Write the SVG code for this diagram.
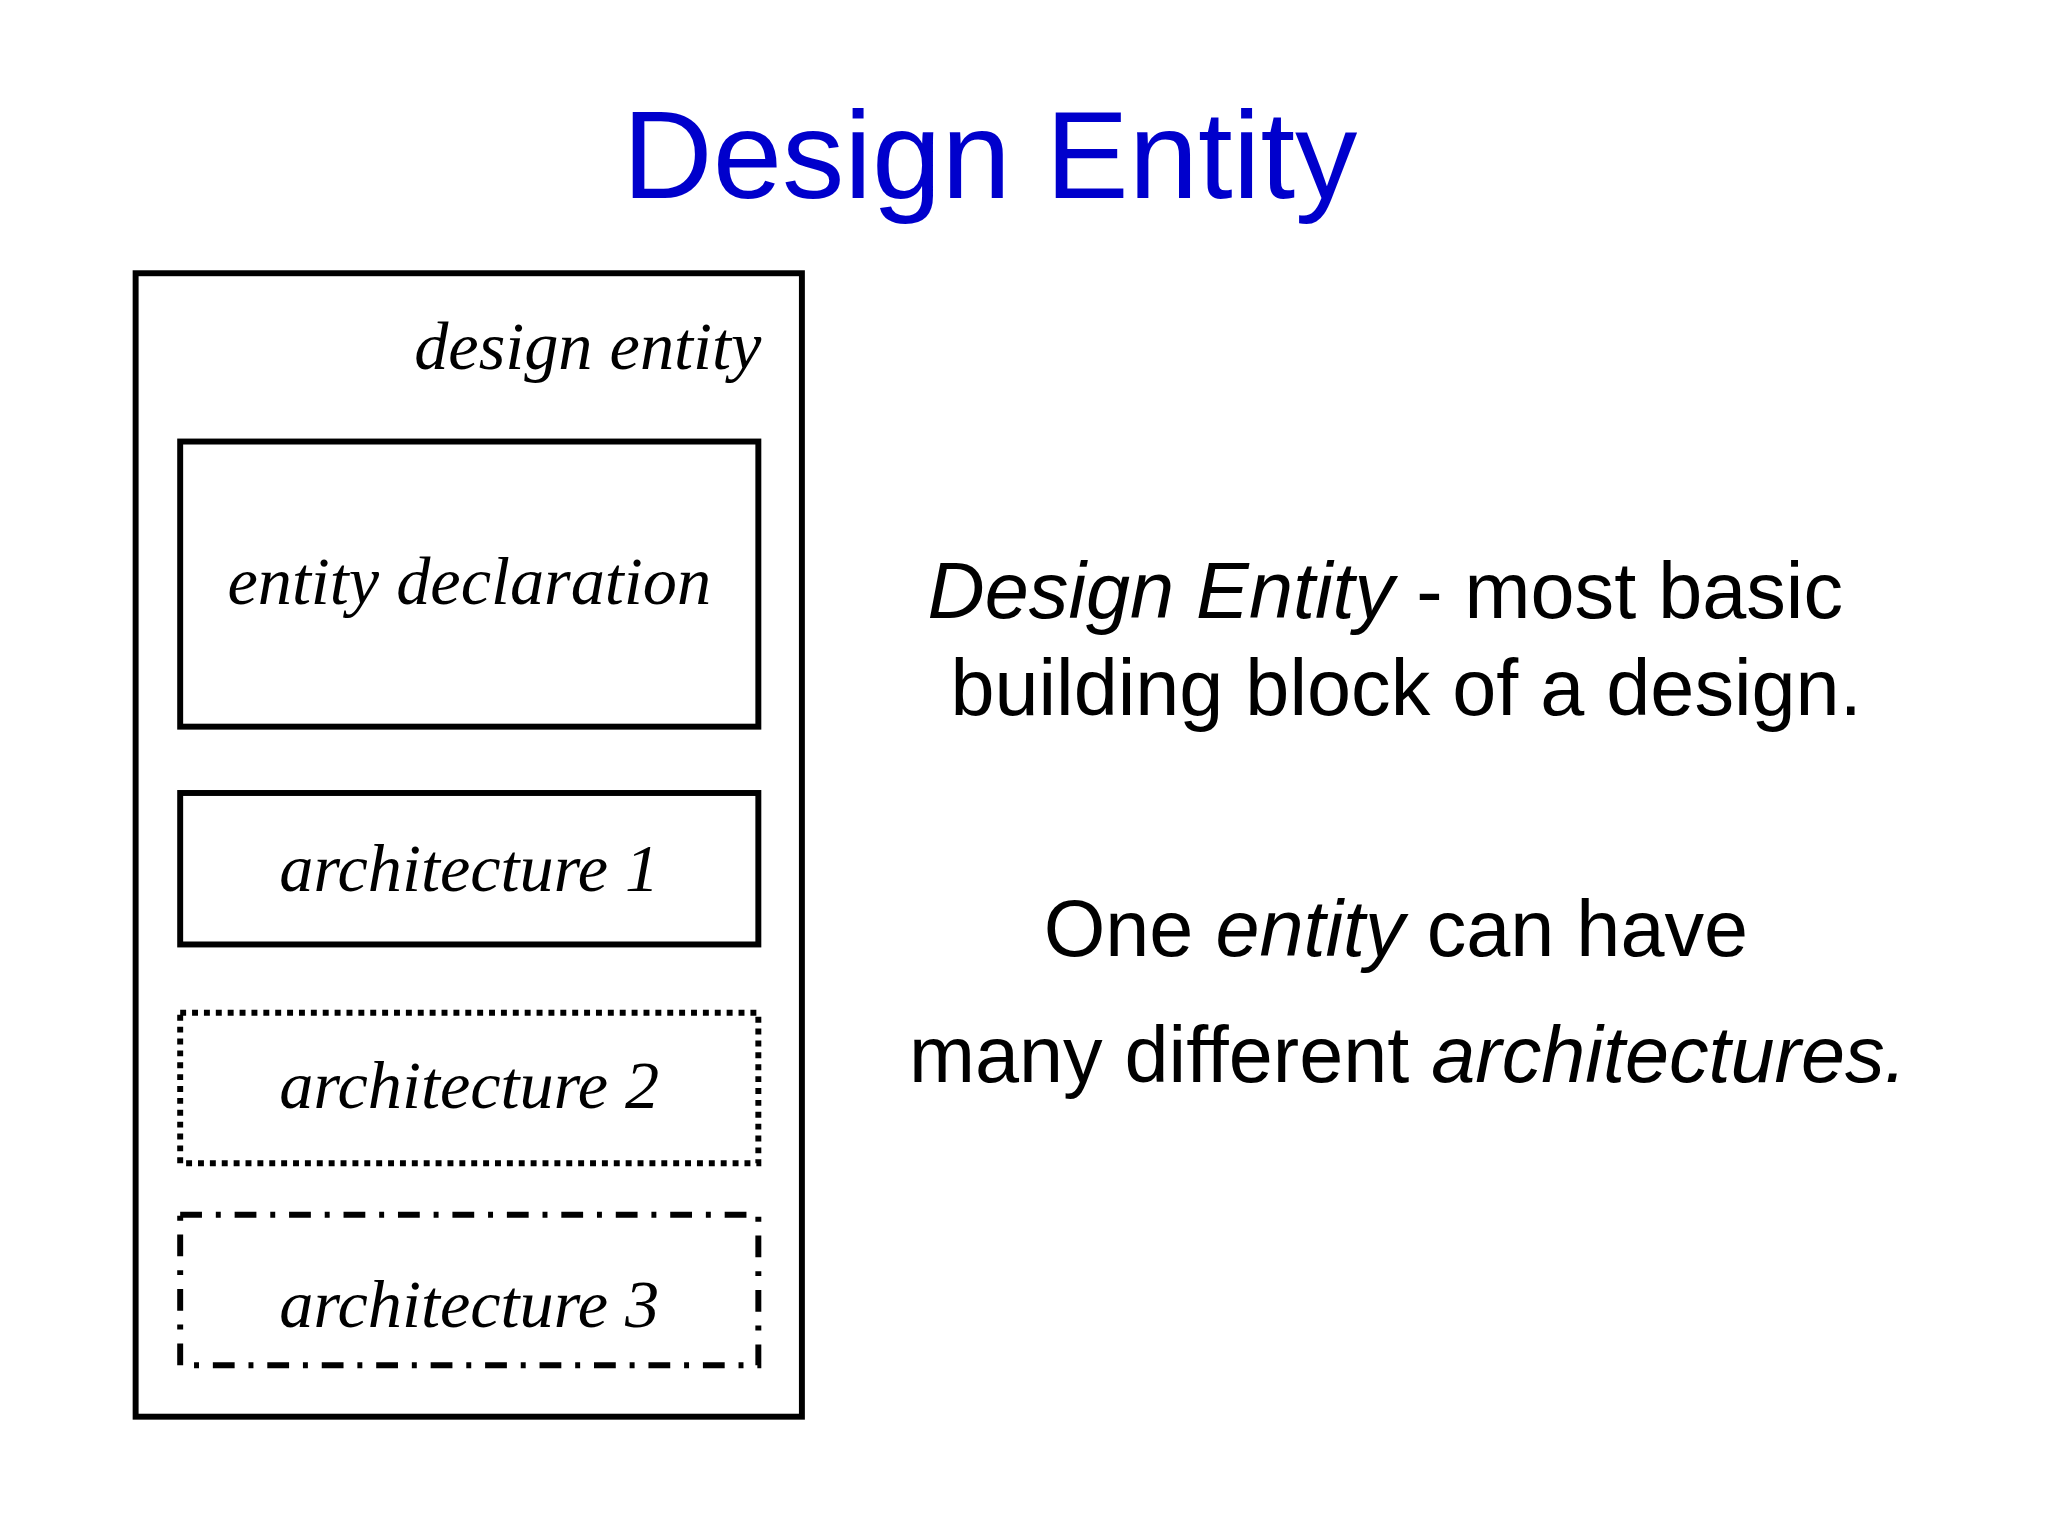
<svg xmlns="http://www.w3.org/2000/svg" width="2048" height="1536" viewBox="0 0 2048 1536">
<style>
.box{fill:none;stroke:#000;stroke-width:6}
.lbl{font-family:"Liberation Serif",serif;font-style:italic;font-size:69px;fill:#000}
.txt{font-family:"Liberation Sans",Arial,sans-serif;font-size:80px;fill:#000}
</style>
<rect width="2048" height="1536" fill="#fff"/>
<g transform="scale(0.99)">
<text x="1000" y="200" text-anchor="middle" font-family="Liberation Sans,Arial,sans-serif" font-size="126" fill="#0000cc">Design Entity</text>
<g id="design-entity"><rect class="box" x="137" y="276" width="673" height="1155"/><text class="lbl" x="769" y="373" text-anchor="end">design entity</text></g>
<g id="entity-declaration"><rect class="box" x="182" y="446" width="584" height="288"/><text class="lbl" x="474" y="610" text-anchor="middle">entity declaration</text></g>
<g id="architecture-1"><rect class="box" x="182" y="801" width="584" height="153"/><text class="lbl" x="474" y="900" text-anchor="middle">architecture 1</text></g>
<g id="architecture-2"><rect class="box" x="182" y="1023" width="584" height="152" stroke-dasharray="6 6"/><text class="lbl" x="474" y="1119" text-anchor="middle">architecture 2</text></g>
<g id="architecture-3"><rect class="box" x="182" y="1227" width="584" height="152" stroke-dasharray="22 14 5 14"/><text class="lbl" x="474" y="1340" text-anchor="middle">architecture 3</text></g>
<g id="connectors"/>
<text class="txt" x="937" y="624"><tspan font-style="italic">Design Entity</tspan> - most basic</text>
<text class="txt" x="960" y="722">building block of a design.</text>
<text class="txt" x="1410" y="966" text-anchor="middle">One <tspan font-style="italic">entity</tspan> can have</text>
<text class="txt" x="1422" y="1093" text-anchor="middle">many different <tspan font-style="italic">architectures.</tspan></text>
</g>
</svg>
